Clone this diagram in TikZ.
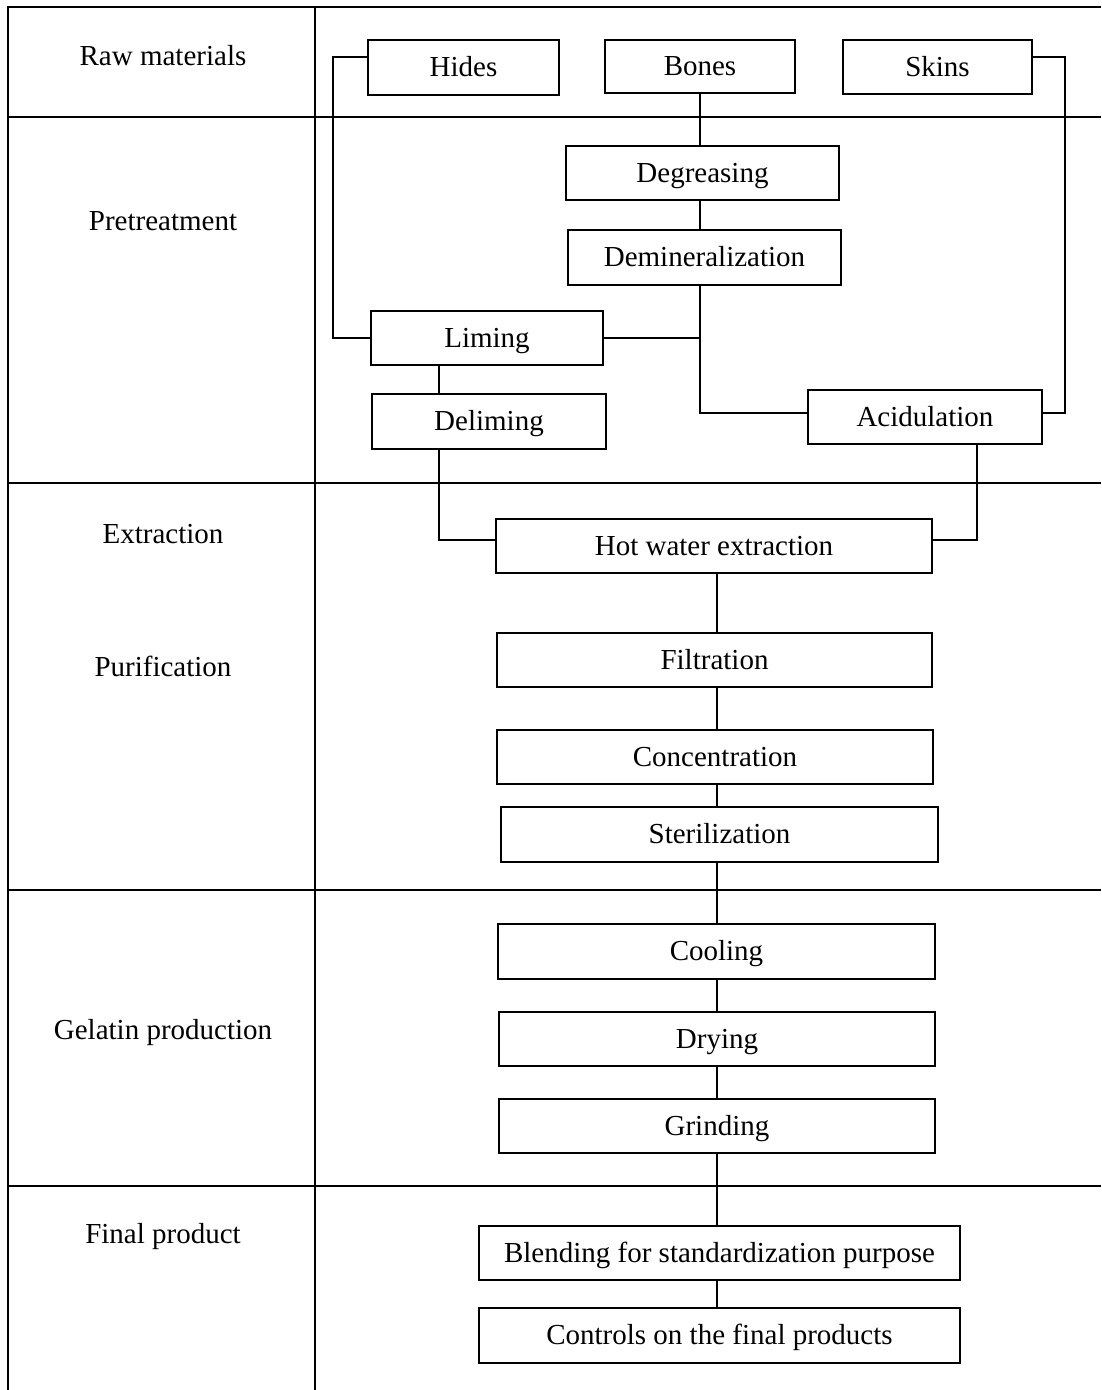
\documentclass[tikz,border=0pt]{standalone}
\usepackage{fontspec}
\setmainfont{Liberation Serif}
\begin{document}
\begin{tikzpicture}[x=1pt,y=-1pt,line width=1.8pt,
  txt/.style={font=\fontsize{29}{34}\selectfont,inner sep=0pt},
  lbl/.style={txt,anchor=base},
  box/.style={txt,draw,text height=21.75pt,text depth=2.9pt},
  conn/.style={line width=1.6pt}]
\useasboundingbox (0,0) rectangle (1101,1390);
% table lines
\draw (8,1390) -- (8,7) -- (1101,7);
\draw (315,7) -- (315,1390);
\foreach \yy in {117,483,890,1186} \draw (8,\yy) -- (1101,\yy);
% row labels
\node[lbl] (l1) at (163,65) {Raw materials};
\node[lbl] (l2) at (163,230) {Pretreatment};
\node[lbl] (l3) at (163,543) {Extraction};
\node[lbl] (l4) at (163,676) {Purification};
\node[lbl] (l5) at (163,1039) {Gelatin production};
\node[lbl] (l6) at (163,1243) {Final product};
% boxes
\node[box,minimum width=191pt,minimum height=55pt] (hides) at (463.5,67.5) {Hides};
\node[box,minimum width=190pt,minimum height=53pt] (bones) at (700,66.5) {Bones};
\node[box,minimum width=189pt,minimum height=54pt] (skins) at (937.5,67) {Skins};
\node[box,minimum width=273pt,minimum height=54pt] (degr) at (702.5,173) {Degreasing};
\node[box,minimum width=273pt,minimum height=55pt] (demin) at (704.5,257.5) {Demineralization};
\node[box,minimum width=232pt,minimum height=54pt] (liming) at (487,338) {Liming};
\node[box,minimum width=234pt,minimum height=55pt] (delim) at (489,421.5) {Deliming};
\node[box,minimum width=234pt,minimum height=54pt] (acid) at (925,417) {Acidulation};
\node[box,minimum width=436pt,minimum height=54pt] (hot) at (714,546) {Hot water extraction};
\node[box,minimum width=435pt,minimum height=54pt] (filt) at (714.5,660) {Filtration};
\node[box,minimum width=436pt,minimum height=54pt] (conc) at (715,757) {Concentration};
\node[box,minimum width=437pt,minimum height=55pt] (ster) at (719.5,834.5) {Sterilization};
\node[box,minimum width=437pt,minimum height=55pt] (cool) at (716.5,951.5) {Cooling};
\node[box,minimum width=436pt,minimum height=54pt] (dry) at (717,1039) {Drying};
\node[box,minimum width=436pt,minimum height=54pt] (grind) at (717,1126) {Grinding};
\node[box,minimum width=481pt,minimum height=54pt] (blend) at (719.5,1253) {Blending for standardization purpose};
\node[box,minimum width=481pt,minimum height=55pt] (ctrl) at (719.5,1335.5) {Controls on the final products};
% helper coordinates
\coordinate (top) at (0,57);
\coordinate (bx) at (700,0);
\coordinate (mx) at (717,0);
\coordinate (hy) at (0,540);
% connectors
\draw[conn] (hides.west |- top) -- (333,57) -- (333,338) -- (liming.west);
\draw[conn] (skins.east |- top) -- (1065,57) -- (1065,413) -- (acid.east |- {0,413});
\draw[conn] (bones.south -| bx) -- (degr.north -| bx);
\draw[conn] (degr.south -| bx) -- (demin.north -| bx);
\draw[conn] (demin.south -| bx) -- (700,413) -- (acid.west |- {0,413});
\draw[conn] (liming.east) -- (700,338);
\draw[conn] (liming.south -| {439,0}) -- (delim.north -| {439,0});
\draw[conn] (delim.south -| {439,0}) -- (439,540) -- (hot.west |- hy);
\draw[conn] (acid.south -| {977,0}) -- (977,540) -- (hot.east |- hy);
\draw[conn] (hot.south -| mx) -- (filt.north -| mx);
\draw[conn] (filt.south -| mx) -- (conc.north -| mx);
\draw[conn] (conc.south -| mx) -- (ster.north -| mx);
\draw[conn] (ster.south -| mx) -- (cool.north -| mx);
\draw[conn] (cool.south -| mx) -- (dry.north -| mx);
\draw[conn] (dry.south -| mx) -- (grind.north -| mx);
\draw[conn] (grind.south -| mx) -- (blend.north -| mx);
\draw[conn] (blend.south -| mx) -- (ctrl.north -| mx);
\end{tikzpicture}
\end{document}
